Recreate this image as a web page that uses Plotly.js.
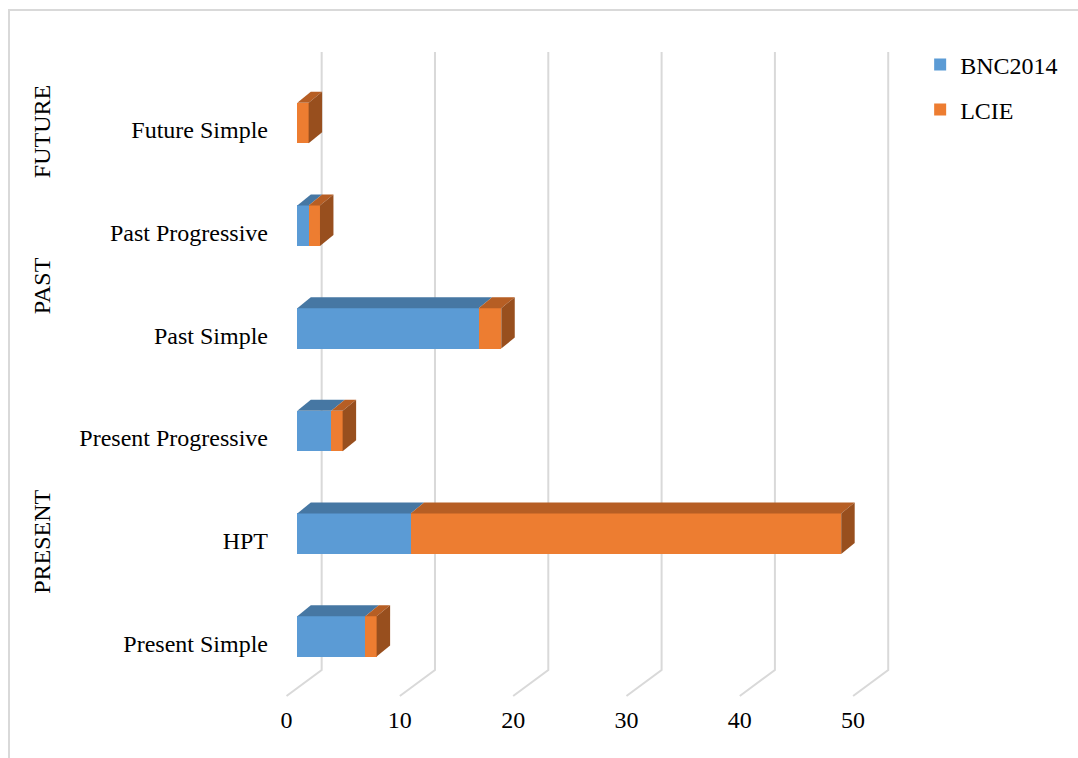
<!DOCTYPE html>
<html>
<head>
<meta charset="utf-8">
<script src="https://cdn.plot.ly/plotly-3.0.1.min.js"></script>
<style>
  html, body { margin: 0; padding: 0; background: #ffffff; }
  #chart { width: 1078px; height: 758px; position: relative; }
  #frame { position: absolute; left: 8px; top: 9px; width: 1200px; height: 900px;
           border-left: 2px solid #d9d9d9; border-top: 2px solid #d9d9d9;
           pointer-events: none; z-index: 10; }
</style>
</head>
<body>
<div id="chart"></div>
<div id="frame"></div>
<script>
// ---- data ----
const categories = ['Present Simple', 'HPT', 'Present Progressive', 'Past Simple', 'Past Progressive', 'Future Simple'];
const groups = ['PRESENT', 'PRESENT', 'PRESENT', 'PAST', 'PAST', 'FUTURE'];
const bnc2014 = [6, 10, 3, 16, 1, 0];
const lcie = [1, 38, 1, 2, 1, 1];
const xTicks = [0, 10, 20, 30, 40, 50];

// ---- styling ----
const FONT = '"Liberation Serif", "Times New Roman", Times, serif';
const FS = 24;
const blue = '#5B9BD5', blueTop = '#4677A3';
const orange = '#ED7D31', orangeTop = '#B65E24', orangeSide = '#984F1E';
const bargap = 0.606;
const barH = 1 - bargap;
const dx = 1.19, dy = 0.107;          // 3-D depth offset (data units)
const backOff = 2.15, frontOff = -0.95; // gridline back-wall / floor-front offsets
const yTop = 5.692, yWallBottom = -0.328, yFloor = -0.581;

const idx = categories.map((_, i) => i);

const traces = [
  { type: 'bar', orientation: 'h', name: 'BNC2014', y: idx, x: bnc2014,
    marker: { color: blue, line: { width: 0 } }, legendgroup: 'a', hoverinfo: 'skip' },
  { type: 'bar', orientation: 'h', name: 'LCIE', y: idx, x: lcie, base: bnc2014,
    marker: { color: orange, line: { width: 0 } }, legendgroup: 'b', hoverinfo: 'skip' }
];

const shapes = [];
// back-wall gridlines with floor projection
xTicks.forEach(v => {
  shapes.push({ type: 'path', xref: 'x', yref: 'y', layer: 'below',
    path: `M${v + backOff},${yTop} L${v + backOff},${yWallBottom} L${v + frontOff},${yFloor}`,
    line: { color: '#d9d9d9', width: 2 } });
});
// 3-D top and side faces
idx.forEach(i => {
  const yt = i + barH / 2, yb = i - barH / 2;
  const segs = [[0, bnc2014[i], blueTop], [bnc2014[i], bnc2014[i] + lcie[i], orangeTop]];
  segs.forEach(([x0, x1, c]) => {
    if (x1 > x0) {
      shapes.push({ type: 'path', xref: 'x', yref: 'y', layer: 'above',
        path: `M${x0},${yt} L${x1},${yt} L${x1 + dx},${yt + dy} L${x0 + dx},${yt + dy} Z`,
        fillcolor: c, line: { width: 0 } });
    }
  });
  const t = bnc2014[i] + lcie[i];
  shapes.push({ type: 'path', xref: 'x', yref: 'y', layer: 'above',
    path: `M${t},${yb} L${t},${yt} L${t + dx},${yt + dy} L${t + dx},${yb + dy} Z`,
    fillcolor: orangeSide, line: { width: 0 } });
});

// group labels
const annotations = [];
[...new Set(groups)].forEach(g => {
  const members = idx.filter(i => groups[i] === g);
  const mid = members.reduce((a, b) => a + b, 0) / members.length;
  annotations.push({ text: g, xref: 'paper', yref: 'y', x: -0.362, y: mid - 0.08,
    textangle: -90, showarrow: false, xanchor: 'center', yanchor: 'middle',
    font: { family: FONT, size: FS, color: '#000' } });
});

const layout = {
  width: 1078, height: 758,
  margin: { l: 270, r: 178, t: 52, b: 58 },
  paper_bgcolor: '#ffffff', plot_bgcolor: 'rgba(0,0,0,0)',
  barmode: 'stack', bargap: bargap,
  font: { family: FONT, size: FS, color: '#000' },
  xaxis: { range: [-2.41, 53.19], showgrid: false, zeroline: false, showline: false,
    tickmode: 'array', tickvals: xTicks.map(v => v + frontOff), ticktext: xTicks.map(String),
    ticks: '', ticklabelstandoff: 3, tickfont: { family: FONT, size: FS, color: '#000' } },
  yaxis: { range: [-0.62, yTop], showgrid: false, zeroline: false, showline: false,
    tickmode: 'array', tickvals: idx, ticktext: categories, ticks: '',
    ticklabelshift: 7, ticklabelstandoff: 1,
    tickfont: { family: FONT, size: FS, color: '#000' } },
  legend: { x: 1.032, y: 1.015, xanchor: 'left', yanchor: 'top', traceorder: 'grouped',
    tracegroupgap: 11, font: { family: FONT, size: FS, color: '#000' }, bgcolor: 'rgba(0,0,0,0)' },
  shapes: shapes,
  annotations: annotations,
  showlegend: true
};

Plotly.newPlot('chart', traces, layout, { staticPlot: true, displayModeBar: false });
</script>
</body>
</html>
